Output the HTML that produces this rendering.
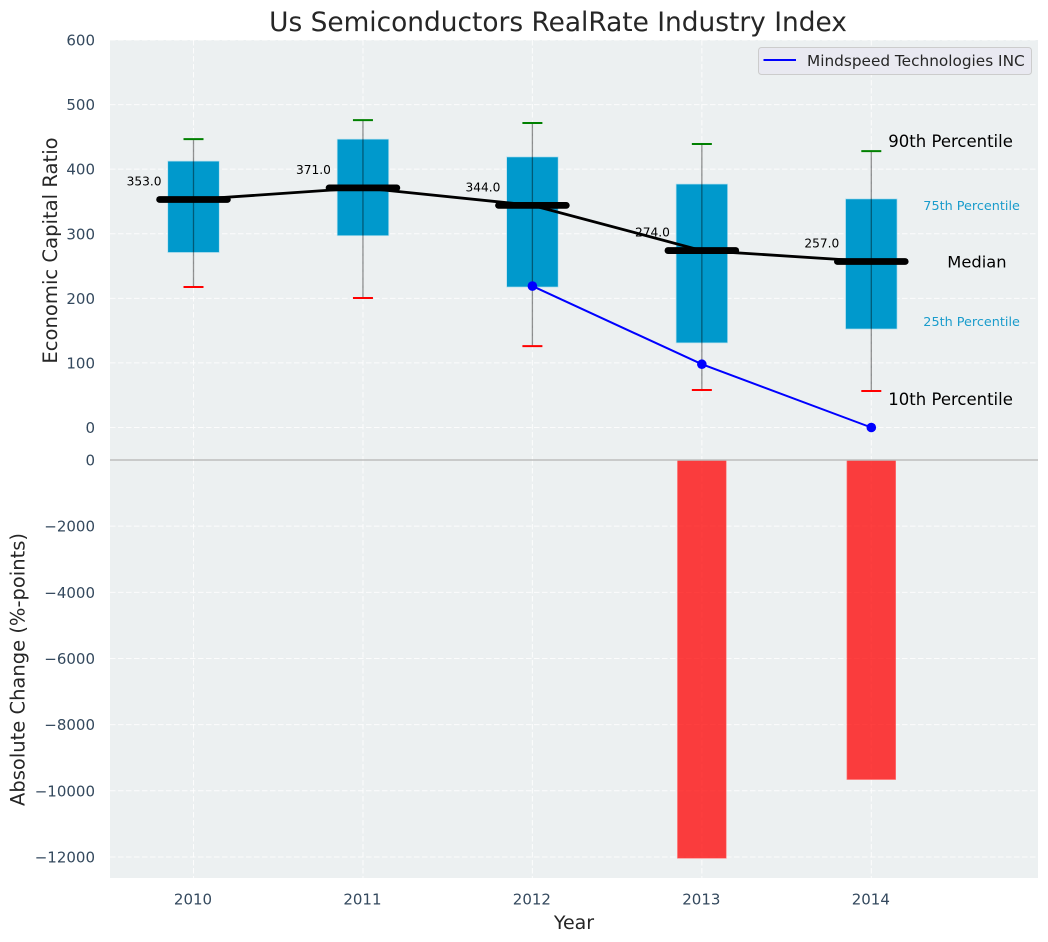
<!DOCTYPE html>
<html lang="en">
<head>
<meta charset="utf-8">
<title>Us Semiconductors RealRate Industry Index</title>
<style>
html,body{margin:0;padding:0;background:#fff;}
svg{display:block;font-family:"DejaVu Sans","Liberation Sans",sans-serif;}
</style>
</head>
<body>
<svg id="chart" xmlns="http://www.w3.org/2000/svg" width="1048" height="942" viewBox="0 0 1048 942">
  <rect x="0" y="0" width="1048" height="942" fill="#ffffff"/>
  <text x="558" y="31" font-size="26.4" text-anchor="middle" fill="#262626">Us Semiconductors RealRate Industry Index</text>
  <rect x="110" y="40" width="928" height="420" fill="#ecf0f1"/>
  <rect x="110" y="460" width="928" height="418" fill="#ecf0f1"/>
  <text transform="translate(57,250.5) rotate(-90)" font-size="19.6" text-anchor="middle" fill="#262626">Economic Capital Ratio</text>
  <text transform="translate(24.5,669.5) rotate(-90)" font-size="19.5" text-anchor="middle" fill="#262626">Absolute Change (%-points)</text>
  <text x="574" y="929" font-size="19" text-anchor="middle" fill="#262626">Year</text>
  <g id="grid"></g>
  <g id="bars"></g>
  <g id="boxes"></g>
  <g id="series"></g>
  <g id="labels"></g>
  <g id="ticks"></g>
  <g id="notes"></g>
  <g>
    <rect x="758.5" y="47.5" width="273" height="27" rx="3" fill="#e9e9f1" stroke="#cccccc" stroke-width="1"/>
    <line x1="763.5" y1="60" x2="796" y2="60" stroke="#0000ff" stroke-width="2"/>
    <text x="807" y="66" font-size="15.3" fill="#262626">Mindspeed Technologies INC</text>
  </g>
</svg>
<script>
const years = [2010, 2011, 2012, 2013, 2014];
const p10 = [217.5, 200.5, 126, 58, 56.5];
const p25 = [271, 297, 217.5, 131, 152.5];
const median = [353, 371, 344, 274, 257];
const p75 = [412.5, 446.5, 419, 377, 354];
const p90 = [446.5, 476, 471.5, 439, 428];
const companyYears = [2012, 2013, 2014];
const companyValues = [219, 98, 0];
const changeYears = [2013, 2014];
const changeValues = [-12040, -9660];
const upperTicks = [0, 100, 200, 300, 400, 500, 600];
const lowerTicks = [0, -2000, -4000, -6000, -8000, -10000, -12000];

const NS = 'http://www.w3.org/2000/svg';
const xScale = function (year) { return 193.5 + (year - 2010) * 169.45; };
const yUpper = function (v) { return 427.5 - v * 0.6458; };
const yLower = function (v) { return 460 - v * 0.03308; };
const xDomainWidth = function (w) { return w * 169.45; };

function el(tag, attrs, parent, text) {
  const node = document.createElementNS(NS, tag);
  for (const k in attrs) node.setAttribute(k, attrs[k]);
  if (text !== undefined) node.textContent = text;
  parent.appendChild(node);
  return node;
}
function fmt(v) { return v < 0 ? '\u2212' + Math.abs(v) : String(v); }

const grid = document.getElementById('grid');
const bars = document.getElementById('bars');
const boxes = document.getElementById('boxes');
const series = document.getElementById('series');
const labels = document.getElementById('labels');
const ticks = document.getElementById('ticks');
const notes = document.getElementById('notes');
const gridStyle = { stroke: '#ffffff', 'stroke-width': 1, 'stroke-dasharray': '5.5 2.5', opacity: 0.85 };

upperTicks.forEach(function (v) {
  const y = yUpper(v);
  const g = el('line', Object.assign({ x1: 110, x2: 1038, y1: y, y2: y }, gridStyle), grid);
  
  
  const t = el('text', { x: 95, y: y + 5.5, 'font-size': 15, 'text-anchor': 'end', fill: '#34495e' }, ticks, fmt(v));
  
  
});
lowerTicks.forEach(function (v) {
  const y = yLower(v);
  if (v !== 0) {
    const g = el('line', Object.assign({ x1: 110, x2: 1038, y1: y, y2: y }, gridStyle), grid);
    
    
  }
  const t = el('text', { x: 95, y: y + 5.5, 'font-size': 15, 'text-anchor': 'end', fill: '#34495e' }, ticks, fmt(v));
  
  
});
years.forEach(function (yr) {
  const x = xScale(yr);
  const g1 = el('line', Object.assign({ x1: x, x2: x, y1: 40, y2: 460 }, gridStyle), grid);
  
  
  const g2 = el('line', Object.assign({ x1: x, x2: x, y1: 460, y2: 878 }, gridStyle), grid);
  
  
  const t = el('text', { x: x - 0.5, y: 904.5, 'font-size': 15, 'text-anchor': 'middle', fill: '#34495e' }, ticks, String(yr));
  
  
});

changeYears.forEach(function (yr, i) {
  const w = xDomainWidth(0.288);
  const y0 = yLower(0);
  const y1 = yLower(changeValues[i]);
  const b = el('rect', { x: xScale(yr) - w / 2, y: y0, width: w, height: y1 - y0, fill: '#ff0000', 'fill-opacity': 0.75, stroke: '#ff8080', 'stroke-width': 0.6 }, bars);
  
  
});
const zero = el('line', { x1: 110, x2: 1038, y1: yLower(0), y2: yLower(0), stroke: '#bdbdbd', 'stroke-width': 1.4 }, bars);



years.forEach(function (yr, i) {
  const x = xScale(yr);
  const w = xDomainWidth(0.304);
  const b = el('rect', { x: x - w / 2, y: yUpper(p75[i]), width: w, height: yUpper(p25[i]) - yUpper(p75[i]), fill: '#0099cc', stroke: '#b5e0ee', 'stroke-width': 0.7 }, boxes);
  
  
  const wh = el('line', { x1: x, x2: x, y1: yUpper(p90[i]), y2: yUpper(p10[i]), stroke: '#000000', 'stroke-opacity': 0.42, 'stroke-width': 1.3 }, boxes);
  
  
  const c1 = el('line', { x1: x - 10, x2: x + 10, y1: yUpper(p90[i]), y2: yUpper(p90[i]), stroke: '#008000', 'stroke-width': 2 }, boxes);
  
  
  const c2 = el('line', { x1: x - 10, x2: x + 10, y1: yUpper(p10[i]), y2: yUpper(p10[i]), stroke: '#ff0000', 'stroke-width': 2 }, boxes);
  
  
});

const medianLine = el('polyline', { points: years.map(function (yr, i) { return xScale(yr) + ',' + yUpper(median[i]); }).join(' '), fill: 'none', stroke: '#000000', 'stroke-width': 2.8 }, series);


years.forEach(function (yr, i) {
  const x = xScale(yr);
  const y = yUpper(median[i]);
  const hw = xDomainWidth(0.2);
  const m = el('line', { x1: x - hw, x2: x + hw, y1: y, y2: y, stroke: '#000000', 'stroke-width': 6.8, 'stroke-linecap': 'round' }, series);
  
  
  const t = el('text', { x: x - 32, y: y - 14, 'font-size': 12.2, 'text-anchor': 'end', fill: '#000000' }, labels, median[i].toFixed(1));
  
  
});

const companyLine = el('polyline', { points: companyYears.map(function (yr, i) { return xScale(yr) + ',' + yUpper(companyValues[i]); }).join(' '), fill: 'none', stroke: '#0000ff', 'stroke-width': 2 }, series);


companyYears.forEach(function (yr, i) {
  const p = el('circle', { cx: xScale(yr), cy: yUpper(companyValues[i]), r: 4.8, fill: '#0000ff' }, series);
  
  
});

const last = years.length - 1;
const lastX = xScale(years[last]);
const n90 = el('text', { x: lastX + 17, y: yUpper(p90[last]) - 4, 'font-size': 16.5, fill: '#000000' }, notes, '90th Percentile');


const n75 = el('text', { x: lastX + 52, y: yUpper(p75[last]) + 11, 'font-size': 12.8, fill: '#1a9ccc' }, notes, '75th Percentile');


const nMed = el('text', { x: lastX + 76, y: yUpper(median[last]) + 6, 'font-size': 16.3, fill: '#000000' }, notes, 'Median');


const n25 = el('text', { x: lastX + 52, y: yUpper(p25[last]) - 3, 'font-size': 12.8, fill: '#1a9ccc' }, notes, '25th Percentile');


const n10 = el('text', { x: lastX + 17, y: yUpper(p10[last]) + 14, 'font-size': 16.5, fill: '#000000' }, notes, '10th Percentile');


</script>
</body>
</html>
